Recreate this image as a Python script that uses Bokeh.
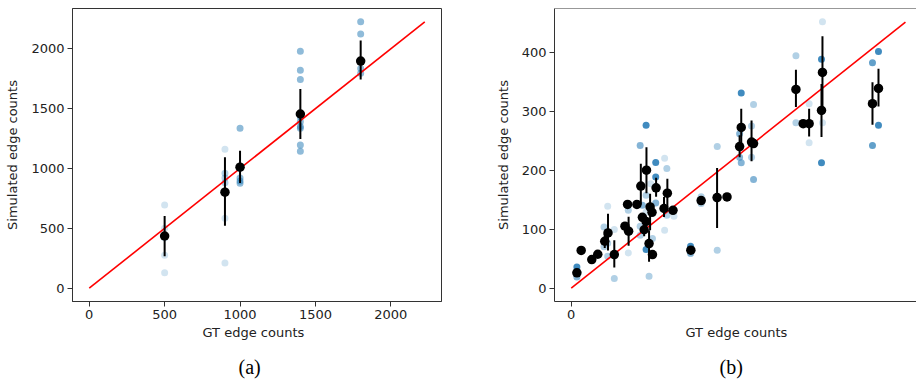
from bokeh.plotting import figure
from bokeh.layouts import row
from bokeh.models import FixedTicker, Title, Span, Range1d, ColumnDataSource
from bokeh.embed import file_html
from bokeh.resources import INLINE

# ---------------- panel (a) data ----------------
a_pts_x = [500, 500, 500, 500, 500,
           900, 900, 900, 900, 900, 900,
           1000, 1000, 1000, 1000,
           1400, 1400, 1400, 1400, 1400, 1400, 1400, 1400, 1400,
           1800, 1800, 1800, 1800]
a_pts_y = [694, 276, 130, 500, 420,
           1160, 960, 920, 880, 584, 211,
           1335, 920, 895, 877,
           1980, 1820, 1742, 1430, 1390, 1350, 1335, 1195, 1144,
           2225, 2122, 1835, 1795]
a_pts_alpha = [0.2, 0.2, 0.2, 0.2, 0.2,
               0.2, 0.35, 0.35, 0.35, 0.2, 0.2,
               0.5, 0.5, 0.5, 0.5,
               0.5, 0.5, 0.5, 0.5, 0.5, 0.5, 0.5, 0.5, 0.5,
               0.5, 0.5, 0.5, 0.5]
a_mean_x = [500, 900, 1000, 1400, 1800]
a_mean_y = [436, 802, 1011, 1455, 1897]
a_err_lo = [267, 522, 878, 1247, 1744]
a_err_hi = [603, 1094, 1147, 1664, 2069]
a_line = [0, 2225]
a_xticks = [0, 500, 1000, 1500, 2000]
a_yticks = [0, 500, 1000, 1500, 2000]

# ---------------- panel (b) data ----------------
b_pts_x = [7.6, 7.6, 7.6,
           44.2, 44.2, 49.2, 49.2, 49.2, 58.1, 58.1,
           77, 77, 93, 93, 93, 96,
           101, 101, 101, 101, 105, 107.3, 109.6,
           114, 114, 114, 126, 126, 129, 129, 138.6,
           161, 161, 175.3, 175.3, 197, 197,
           227.2, 227.2, 229.4, 229.4, 243.3, 243.3, 246, 246,
           303.2, 303.2, 313, 321, 321, 337.7, 337.7, 339, 339,
           406.5, 406.5, 414.6, 414.6]
b_pts_y = [36, 19, 29,
           103.8, 70, 138.8, 76, 54, 99.3, 16.4,
           132, 59.8, 242, 105, 89.7, 140.5,
           276, 157.4, 129, 65.5, 20.3, 177, 84,
           213, 188.4, 144.4, 220, 98, 203, 123.6, 122,
           71, 59, 143.3, 155, 240, 64.3,
           261.8, 222, 330.6, 212.7, 275, 222, 311.4, 184,
           393.8, 280.4, 279, 312.6, 246.6, 388, 212.7, 451.4, 280.4,
           382, 241.6, 401, 276]
b_pts_alpha = [0.85, 0.55, 0.55,
               0.35, 0.35, 0.2, 0.35, 0.35, 0.2, 0.35,
               0.35, 0.2, 0.55, 0.35, 0.35, 0.55,
               0.85, 0.35, 0.2, 0.85, 0.35, 0.2, 0.35,
               0.85, 0.85, 0.55, 0.2, 0.2, 0.35, 0.35, 0.2,
               0.85, 0.55, 0.35, 0.35, 0.35, 0.35,
               0.55, 0.55, 0.85, 0.55, 0.35, 0.35, 0.35, 0.55,
               0.35, 0.35, 0.2, 0.2, 0.2, 0.85, 0.85, 0.2, 0.2,
               0.7, 0.7, 0.85, 0.85]
b_mean_x = [7.6, 13.4, 27.7, 35.8, 45.2, 49.6, 58.1, 72.5, 77.4, 76, 88.6,
            93.9, 101.5, 96, 98.4, 101, 105, 109.6, 106.4, 109, 114.5,
            125.2, 129.7, 137.3, 161.4, 175.3, 196.8, 210.2, 227.2, 229.4,
            243.3, 246, 303.2, 313, 321, 339, 337.7, 406.5, 414.6]
b_mean_y = [26, 64, 48.5, 57.5, 79.5, 93.7, 57, 105, 96.5, 142, 142,
            173, 200, 120, 99, 113, 75.6, 57, 137.7, 128.6, 170,
            135, 161, 132, 64.3, 148.4, 153.5, 154.6, 240, 272.5,
            247.7, 245, 336.8, 278.7, 278.7, 365.6, 301.3, 312.6, 338.5]
b_err_lo = [22, 64, 48.5, 57.5, 68, 64, 35, 105, 72, 142, 142,
            142, 161, 120, 88, 113, 44.6, 57, 98, 128.6, 155,
            120.7, 137.7, 132, 64.3, 148.4, 102, 154.6, 222, 245,
            215, 245, 307, 278.7, 257, 301, 256, 277, 308]
b_err_hi = [30, 64, 48.5, 57.5, 92, 126, 81, 105, 121, 142, 142,
            211, 239, 120, 112, 113, 98, 57, 160, 128.6, 187,
            154.6, 185.6, 132, 64.3, 148.4, 203.7, 154.6, 259, 304,
            284, 245, 370, 278.7, 304, 427, 346, 349, 372]
b_line = [0, 451]
b_xticks = [0]
b_yticks = [0, 100, 200, 300, 400]

FONT = "DejaVu Sans"
TXT = "#222222"
FRAME = "#333333"


def make_panel(xr, yr, fw, left, right, xticks, yticks, px, py, pa, mx, my, lo, hi, line,
               caption, xlab_offset, cap_offset, outline=True):
    p = figure(frame_width=fw, frame_height=293,
               x_range=Range1d(*xr), y_range=Range1d(*yr),
               output_backend="svg", toolbar_location=None,
               min_border_left=left, min_border_right=right,
               min_border_top=8, min_border_bottom=80,
               background_fill_color="white", border_fill_color="white")
    p.grid.visible = False
    p.outline_line_color = FRAME if outline else None
    p.outline_line_width = 1
    for ax in (p.xaxis[0], p.yaxis[0]):
        ax.axis_line_color = FRAME
        ax.major_tick_line_color = FRAME
        ax.major_tick_out = 5
        ax.major_tick_in = 0
        ax.minor_tick_line_color = None
        ax.major_label_text_font = FONT
        ax.major_label_text_font_size = "13px"
        ax.major_label_text_color = TXT
        ax.major_label_standoff = 3
    p.xaxis[0].ticker = FixedTicker(ticks=xticks)
    p.yaxis[0].ticker = FixedTicker(ticks=yticks)
    p.yaxis[0].axis_label = "Simulated edge counts"
    p.yaxis[0].axis_label_text_font = FONT
    p.yaxis[0].axis_label_text_font_size = "13px"
    p.yaxis[0].axis_label_text_font_style = "normal"
    p.yaxis[0].axis_label_text_color = TXT
    p.yaxis[0].axis_label_standoff = 8
    if not outline:
        p.add_layout(Span(location=yr[1], dimension="width", line_color=FRAME, line_width=1))

    src = ColumnDataSource(dict(x=px, y=py, a=pa))
    p.scatter("x", "y", source=src, size=7, fill_color="#1f77b4", fill_alpha="a", line_color=None)
    p.line(line, line, line_color="red", line_width=1.6)
    p.segment(x0=mx, y0=lo, x1=mx, y1=hi, line_color="black", line_width=2)
    p.scatter(mx, my, size=9.5, fill_color="black", line_color=None)

    p.add_layout(Title(text="GT edge counts", align="left", offset=xlab_offset,
                       text_font=FONT, text_font_size="13px", text_font_style="normal",
                       text_color=TXT, standoff=3), "below")
    p.add_layout(Title(text=caption, align="left", offset=cap_offset,
                       text_font="Liberation Serif", text_font_size="20px", text_font_style="normal",
                       text_color="black", standoff=24), "below")
    return p


pa = make_panel((-111, 2336), (-111, 2336), 369, 72, 49, a_xticks, a_yticks,
                a_pts_x, a_pts_y, a_pts_alpha, a_mean_x, a_mean_y, a_err_lo, a_err_hi, a_line,
                "(a)", 130, 166, outline=True)
pb = make_panel((-22.6, 465.9), (-22.6, 474), 362, 64, 0, b_xticks, b_yticks,
                b_pts_x, b_pts_y, b_pts_alpha, b_mean_x, b_mean_y, b_err_lo, b_err_hi, b_line,
                "(b)", 131, 165, outline=False)

layout = row(pa, pb)
open("out.html", "w").write(file_html(layout, INLINE))
